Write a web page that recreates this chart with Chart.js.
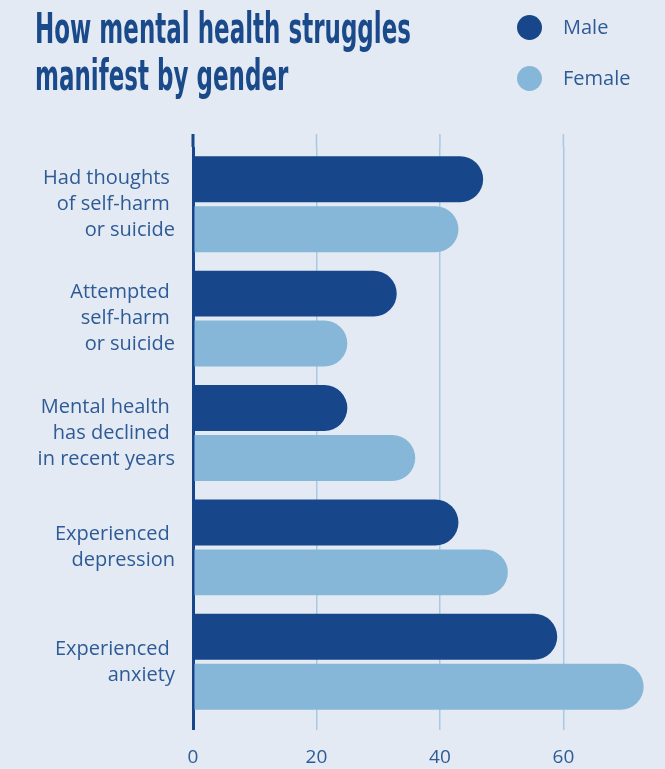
<!DOCTYPE html>
<html>
<head>
<meta charset="utf-8">
<script src="https://cdn.jsdelivr.net/npm/chart.js@4"></script>
<style>
  html, body { margin: 0; padding: 0; background: #e3eaf4; }
  #wrap { position: relative; width: 665px; height: 769px; }
  canvas { display: block; }
  #title {
    position: absolute; left: 35px; top: 5px;
    font-family: "DejaVu Sans Condensed", "DejaVu Sans"; font-weight: bold;
    font-size: 42px; line-height: 47px; color: #1a4a8a;
    transform-origin: 0 0; white-space: nowrap;
  }
  .leg { position: absolute; left: 517px; font-family: "Open Sans", sans-serif; font-size: 20px; color: #2e5b96; }
  .leg span.dot { position: absolute; left: 0; top: 0; width: 25px; height: 25px; border-radius: 50%; }
  .leg span.txt { position: absolute; left: 46px; top: -1px; line-height: 25px; }
</style>
</head>
<body>
<div id="wrap">
  <canvas id="myChart" width="665" height="769"></canvas>
  <div id="title"><span id="t1">How mental health struggles</span><br><span>manifest by gender</span></div>
  <div id="legend"></div>
</div>
<script>
// datos del grafico
const categories = [
  ['Had thoughts ', 'of self-harm ', 'or suicide'],
  ['Attempted ', 'self-harm ', 'or suicide'],
  ['Mental health ', 'has declined ', 'in recent years'],
  ['Experienced ', 'depression'],
  ['Experienced ', 'anxiety']
];
const seriesNames = ['Male', 'Female'];
const male = [47, 33, 25, 43, 59];
const female = [43, 25, 36, 51, 73];
const xTicks = [0, 20, 40, 60];

const maleColor = '#17478a';
const femaleColor = '#87b7d8';
const gridColor = '#a9c9e3';
const textColor = '#2e5b96';

// title squeeze to condensed width
const title = document.getElementById('title');
const w = document.getElementById('t1').getBoundingClientRect().width;
title.style.transform = 'scaleX(' + (376 / w) + ')';

// legend
const legend = document.getElementById('legend');
[maleColor, femaleColor].forEach((c, i) => {
  const d = document.createElement('div');
  d.className = 'leg';
  d.style.top = (15 + i * 51) + 'px';
  d.innerHTML = '<span class="dot" style="background:' + c + '"></span><span class="txt">' + seriesNames[i] + '</span>';
  legend.appendChild(d);
});

// extends vertical lines above the plot area
const gridTop = {
  id: 'gridTop',
  beforeDatasetsDraw(chart) {
    const { ctx, chartArea, scales: { x } } = chart;
    ctx.save();
    x.ticks.forEach(t => {
      const px = x.getPixelForValue(t.value);
      ctx.strokeStyle = t.value === 0 ? maleColor : gridColor;
      ctx.lineWidth = t.value === 0 ? 3 : 1.5;
      ctx.beginPath();
      ctx.moveTo(px, chartArea.top - 13);
      ctx.lineTo(px, chartArea.top);
      ctx.stroke();
    });
    ctx.restore();
  }
};

const ctx = document.getElementById('myChart');
const myChart = new Chart(ctx, {
  type: 'bar',
  data: {
    labels: categories,
    datasets: [
      { label: seriesNames[0], data: male, backgroundColor: maleColor },
      { label: seriesNames[1], data: female, backgroundColor: femaleColor }
    ]
  },
  options: {
    indexAxis: 'y',
    responsive: false,
    animation: false,
    devicePixelRatio: 1,
    categoryPercentage: 0.873,
    barPercentage: 0.92,
    borderRadius: 23,
    borderSkipped: 'start',
    layout: { padding: { top: 147, right: 9, left: 0, bottom: 0 } },
    plugins: { legend: { display: false }, tooltip: { enabled: false } },
    scales: {
      x: {
        min: 0,
        max: 75,
        afterBuildTicks: s => { s.ticks = xTicks.map(v => ({ value: v })); },
        afterFit: s => { s.height = 50; },
        border: { display: false },
        grid: {
          color: c => c.tick && c.tick.value === 0 ? maleColor : gridColor,
          lineWidth: c => c.tick && c.tick.value === 0 ? 3 : 1.5,
          drawTicks: true,
          tickLength: 11
        },
        ticks: { color: textColor, padding: 16, font: { family: 'Open Sans', size: 19 } }
      },
      y: {
        afterFit: s => { s.width = 193; },
        border: { display: false },
        grid: { display: false, drawTicks: true, tickLength: 18 },
        ticks: { color: textColor, padding: 0, font: { family: 'Open Sans', size: 20, lineHeight: 1.3 } }
      }
    }
  },
  plugins: [gridTop]
});
</script>
</body>
</html>
